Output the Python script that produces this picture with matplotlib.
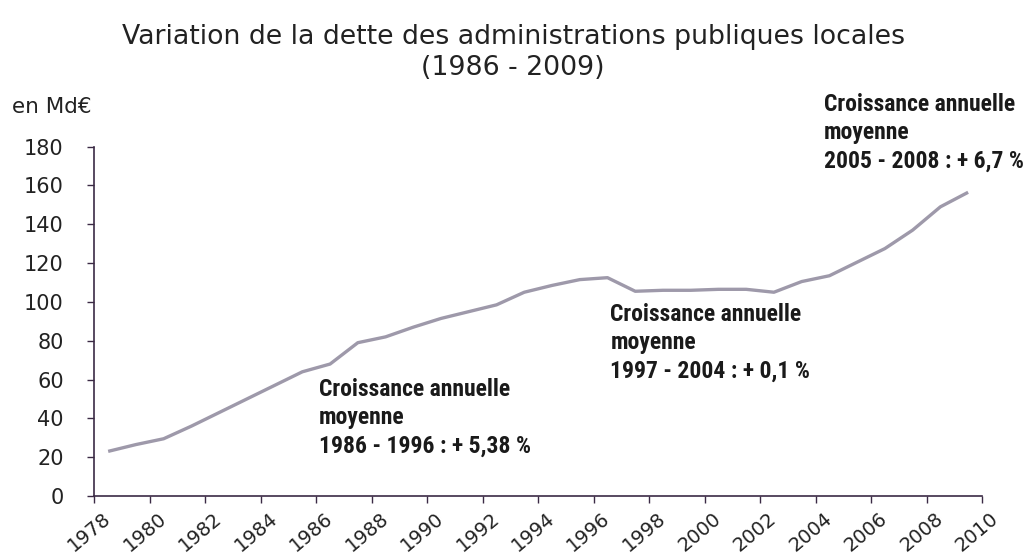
import numpy as np
import matplotlib
matplotlib.use("Agg")
import matplotlib.pyplot as plt
from matplotlib.transforms import ScaledTranslation
from matplotlib import font_manager

# Dette des APUL, en Md€
years = list(range(1978, 2010))
debt = [23, 26.5, 29.5, 36, 43, 50, 57, 64, 68, 79,
        82, 87, 91.5, 95, 98.5, 105, 108.5, 111.5, 112.5, 105.5,
        106, 106, 106.5, 106.5, 105, 110.5, 113.5, 120.5, 127.5, 137,
        149, 156.5]

xticks = list(range(1978, 2011, 2))
yticks = list(range(0, 181, 20))

# (x, y du milieu du bloc, texte)
notes = [
    (1986.1, 40.2, "Croissance annuelle\nmoyenne\n1986 - 1996 : + 5,38 %"),
    (1996.6, 78.9, "Croissance annuelle\nmoyenne\n1997 - 2004 : + 0,1 %"),
    (2004.3, 187.1, "Croissance annuelle\nmoyenne\n2005 - 2008 : + 6,7 %"),
]

axis_col = "#3b2a45"
line_col = "#9e99aa"
installed = {f.name for f in font_manager.fontManager.ttflist}
note_font = [f for f in ["Roboto Condensed", "Liberation Sans Narrow", "Roboto"]
             if f in installed] + ["DejaVu Sans"]

fig = plt.figure(figsize=(10.26, 5.59), dpi=100)
ax = fig.add_axes([0.0919, 0.1127, 0.8652, 0.6249])

# points au milieu de chaque année
ax.plot(np.array(years) + 0.5, debt, color=line_col, lw=2.4, solid_capstyle="butt")

ax.set_xlim(1978, 2010)
ax.set_ylim(0, 180)
ax.set_xticks(xticks)
ax.set_yticks(yticks)
ax.set_xticklabels([str(y) for y in xticks], rotation=40, ha="right", va="top",
                   rotation_mode="anchor", fontsize=14, color="#222222")
ax.tick_params(axis="y", length=5, width=1, color=axis_col, pad=17,
               labelsize=15, labelcolor="#222222")
ax.tick_params(axis="x", length=5, width=1, color=axis_col, pad=4)
for lbl in ax.get_xticklabels():
    lbl.set_transform(lbl.get_transform() + ScaledTranslation(0.08, 0, fig.dpi_scale_trans))

for s in ["top", "right"]:
    ax.spines[s].set_visible(False)
for s in ["left", "bottom"]:
    ax.spines[s].set_color(axis_col)
    ax.spines[s].set_linewidth(1.2)

for x, y, txt in notes:
    ax.text(x, y, txt, fontsize=17, fontweight="bold", family=note_font,
            color="#1a1a1a", va="center", ha="left", linespacing=1.3, clip_on=False)

fig.text(0.5, 1 - 37 / 559, "Variation de la dette des administrations publiques locales",
         ha="center", va="center", fontsize=19.3, color="#222222")
fig.text(0.5, 1 - 68 / 559, "(1986 - 2009)", ha="center", va="center",
         fontsize=19.3, color="#222222")
fig.text(12 / 1026, 1 - 107 / 559, "en Md€", ha="left", va="center",
         fontsize=15.5, color="#222222")

fig.savefig("out.png", dpi=100)
